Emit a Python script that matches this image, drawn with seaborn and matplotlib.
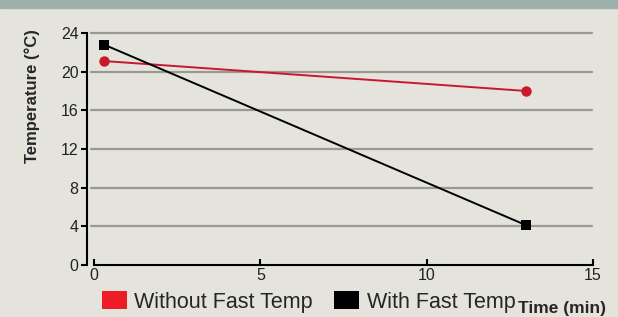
import pandas as pd
import matplotlib.pyplot as plt
import seaborn as sns
from matplotlib.patches import Patch, Rectangle

# ---------------- DATOS ----------------
TIEMPO = [0.3, 13.0]
SIN_FAST_TEMP = [21.1, 18.0]
CON_FAST_TEMP = [22.8, 4.1]
SERIES = ["Without Fast Temp", "With Fast Temp"]
Y_TICKS = [0, 4, 8, 12, 16, 20, 24]
X_TICKS = [0, 5, 10, 15]

FONDO = "#e4e3dc"
BANDA = "#9db0ac"
COLORES = {"Without Fast Temp": "#c8182d", "With Fast Temp": "#000000"}
MARCAS = {"Without Fast Temp": "o", "With Fast Temp": "s"}

df = pd.DataFrame({
    "Tiempo": TIEMPO + TIEMPO,
    "Temperatura": SIN_FAST_TEMP + CON_FAST_TEMP,
    "Serie": [SERIES[0]] * len(TIEMPO) + [SERIES[1]] * len(TIEMPO),
})

sns.set_style("white")
plt.rcParams["font.family"] = ["Liberation Sans", "DejaVu Sans"]

fig = plt.figure(figsize=(6.18, 3.17), dpi=100, facecolor=FONDO)
ax = fig.add_axes([94 / 618, 1 - 265 / 317, (593 - 94) / 618, (265 - 33) / 317])
ax.set_facecolor(FONDO)

# banda superior
fig.patches.append(Rectangle((0, 1 - 8 / 317), 1, 8 / 317, transform=fig.transFigure,
                             color=BANDA, zorder=0))

for y in Y_TICKS[1:]:
    ax.axhline(y, xmin=-0.006, xmax=0.998, color="#9a9892", lw=1.6, zorder=1, clip_on=False)

sns.lineplot(data=df, x="Tiempo", y="Temperatura", hue="Serie", style="Serie",
             palette=COLORES, markers=MARCAS, dashes=False, markersize=7.5,
             markeredgewidth=0, linewidth=1.4, legend=False, ax=ax, zorder=3)

ax.set_xlim(0, 15)
ax.set_ylim(0, 24)
ax.set_xticks(X_TICKS)
ax.set_yticks(Y_TICKS)
ax.set_xlabel("")
ax.set_ylabel("Temperature (°C)", fontsize=12, fontweight="bold")
ax.yaxis.set_label_coords(-0.108, 0.73)

for lado in ["top", "right"]:
    ax.spines[lado].set_visible(False)
ax.spines["left"].set_position(("outward", 5))
for lado in ["left", "bottom"]:
    ax.spines[lado].set_color("black")
    ax.spines[lado].set_linewidth(1.5)

ax.tick_params(axis="y", left=True, direction="out", length=4, width=1.5, color="black",
               labelsize=11.5, pad=2, labelcolor="#222222")
ax.tick_params(axis="x", bottom=True, direction="in", length=4, width=1.5, color="black",
               labelsize=11.5, pad=2, labelcolor="#222222")

handles = [Patch(facecolor="#ee1c25", edgecolor="none"),
           Patch(facecolor="black", edgecolor="none")]
fig.legend(handles, SERIES, loc="center left", bbox_to_anchor=(102 / 618, 1 - 302 / 317),
           ncol=2, frameon=False, fontsize=15.5, handlelength=1.15, handleheight=0.85,
           handletextpad=0.35, columnspacing=1.0, borderpad=0, borderaxespad=0)

fig.text(606 / 618, 1 - 308 / 317, "Time (min)", ha="right", va="center",
         fontsize=12.5, fontweight="bold")

fig.savefig("out.png", dpi=100, facecolor=FONDO)
plt.close(fig)
